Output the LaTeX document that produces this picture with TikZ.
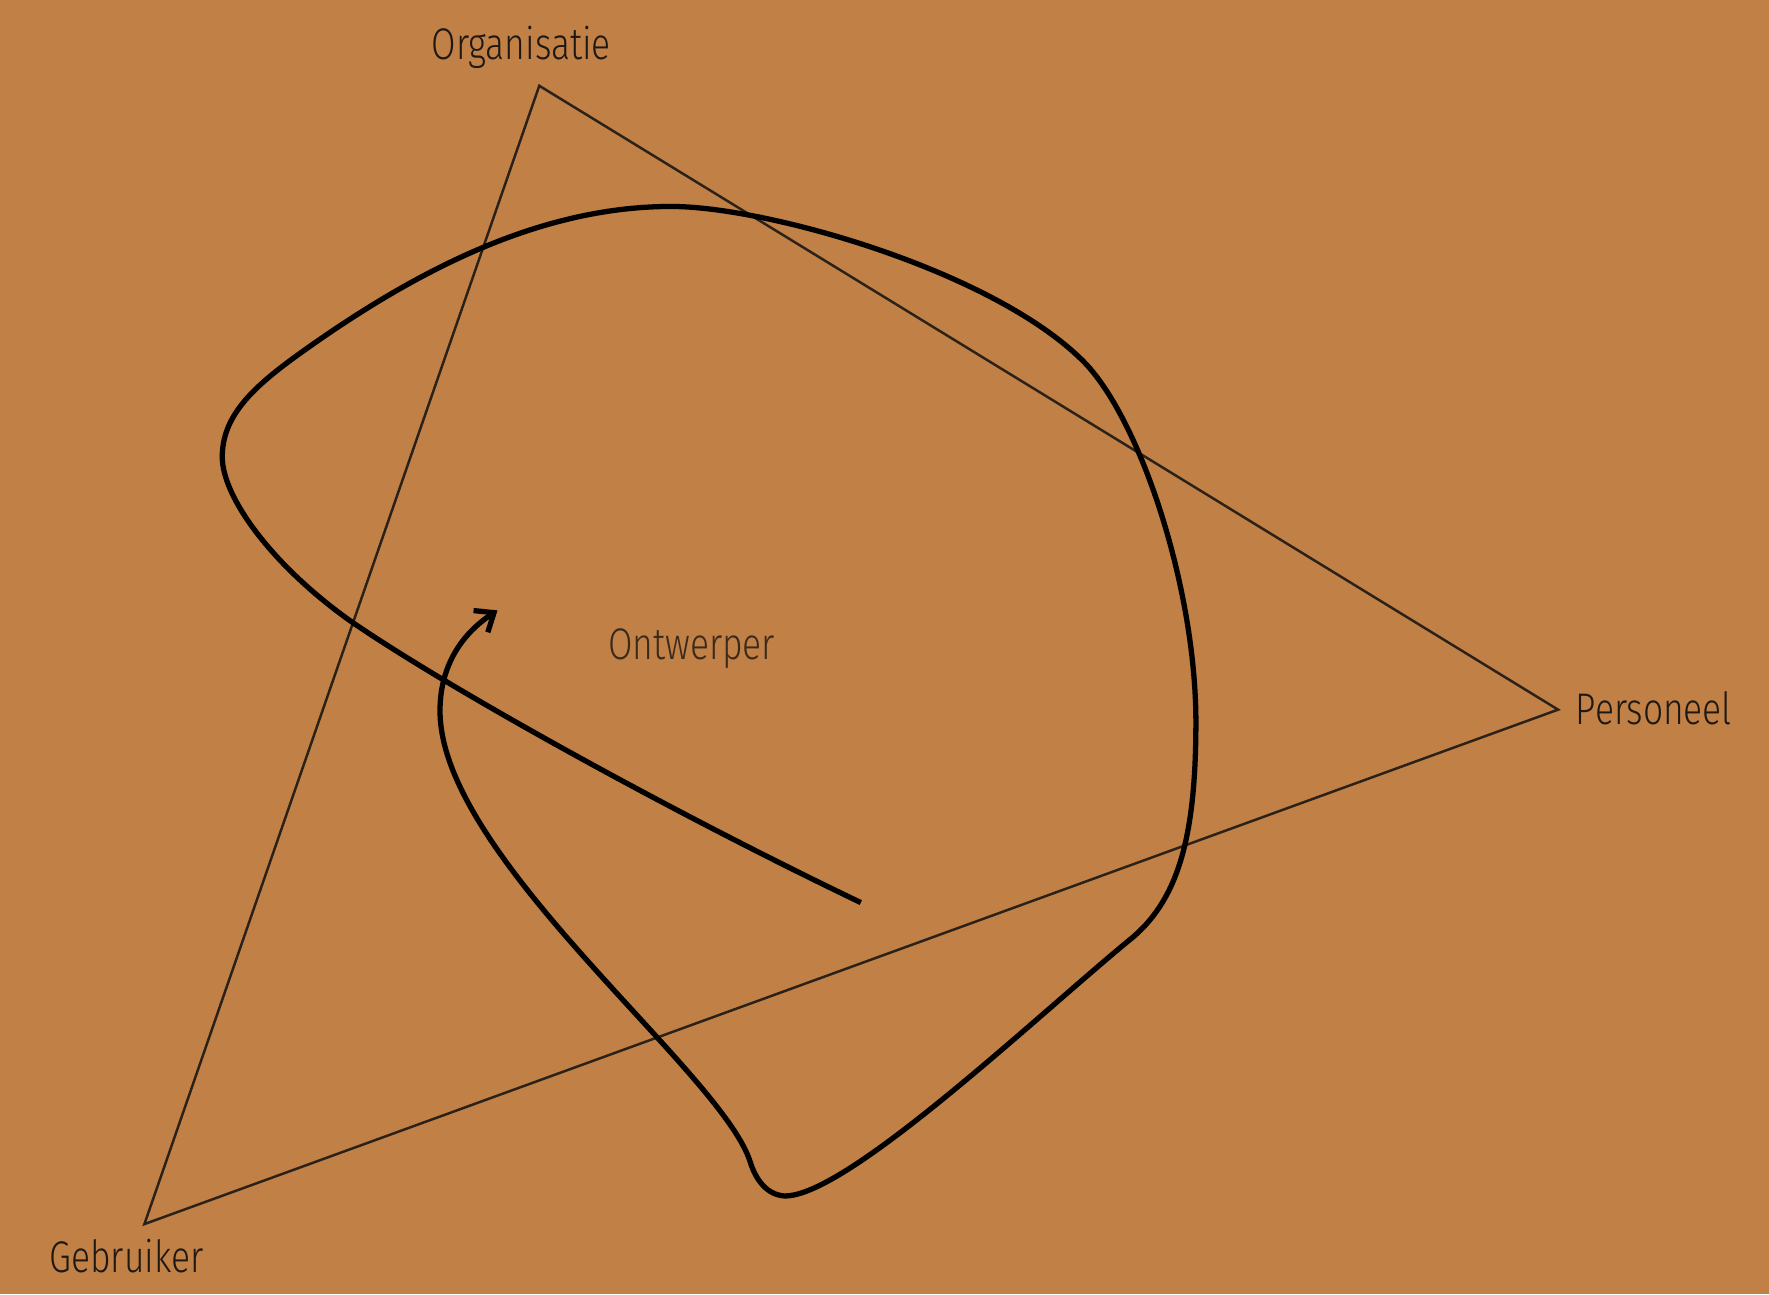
\documentclass[tikz,border=0pt]{standalone}
\usepackage{fontspec}
\setmainfont{Fira Sans}[UprightFont={* Light}, FakeStretch=0.8]
\usetikzlibrary{arrows.meta}
\definecolor{bg}{HTML}{C08046}
\definecolor{tri}{HTML}{2A2118}
\definecolor{lbl}{HTML}{1E1812}
\definecolor{lbl2}{HTML}{3A2A1C}
\tikzset{
  triline/.style={draw=tri, line width=0.7pt, line join=miter},
  curveline/.style={draw=black, line width=1.5pt},
  vlabel/.style={font=\fontsize{12.6pt}{14pt}\selectfont, text=lbl, inner sep=0pt},
}
\begin{document}
\begin{tikzpicture}[x=0.011282cm, y=-0.011282cm]
\fill[bg] (0,0) rectangle (1568,1147);
\useasboundingbox (0,0) rectangle (1568,1147);
\coordinate (O) at (478,76);
\coordinate (P) at (1381,629);
\coordinate (G) at (128,1085);
\draw[triline] (O) -- (P) -- (G) -- cycle;
\node[vlabel] (lo) at (462,42) {Organisatie};
\node[vlabel] (lp) at (1466,628) {Personeel};
\node[vlabel] (lg) at (112,1113) {Gebruiker};
\node[vlabel, text=lbl2] (lw) at (613,575) {Ontwerper};
\coordinate (S) at (763,800);
\coordinate (H) at (441,541);
\draw[curveline, -{Straight Barb[length=1.6mm,width=2.6mm,line width=1.5pt]}]
  (S) .. controls (600,722) and (400,612) .. (310,550)
      .. controls (240,500) and (197,440) .. (197,405)
      .. controls (197,370) and (222,345) .. (262,316)
      .. controls (370,238) and (480,183) .. (595,183)
      .. controls (680,183) and (880,240) .. (960,320)
      .. controls (1010,370) and (1060,520) .. (1060,640)
      .. controls (1060,740) and (1045,795) .. (1005,830)
      .. controls (925,895) and (750,1062) .. (695,1060)
      .. controls (680,1059) and (670,1046) .. (665,1030)
      .. controls (640,950) and (390,760) .. (390,630)
      .. controls (390,594) and (406,564) .. (H);
\end{tikzpicture}
\end{document}
